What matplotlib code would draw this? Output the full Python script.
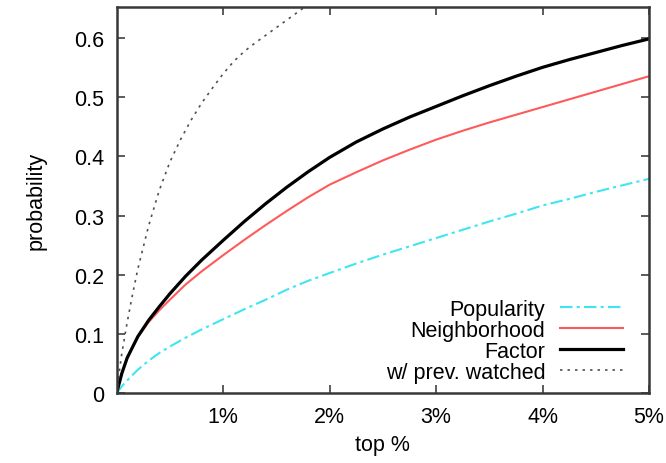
import matplotlib
matplotlib.use("Agg")
import matplotlib.pyplot as plt

plt.rcParams['font.family'] = ['Liberation Sans', 'DejaVu Sans']

# top % values and probabilities
x_main = [0, 0.05, 0.1, 0.2, 0.3, 0.4, 0.5, 0.65, 0.8, 1.0, 1.2, 1.4, 1.6, 1.8, 2.0,
          2.25, 2.5, 2.75, 3.0, 3.25, 3.5, 3.75, 4.0, 4.25, 4.5, 4.75, 5.0]
popularity = [0, 0.012, 0.022, 0.04, 0.055, 0.068, 0.079, 0.094, 0.108, 0.125, 0.142, 0.158,
              0.175, 0.19, 0.203, 0.219, 0.234, 0.248, 0.262, 0.276, 0.29, 0.303, 0.317,
              0.328, 0.34, 0.351, 0.362]
neighborhood = [0, 0.034, 0.06, 0.095, 0.12, 0.14, 0.158, 0.184, 0.206, 0.233, 0.259, 0.284,
                0.308, 0.331, 0.352, 0.373, 0.393, 0.411, 0.428, 0.443, 0.457, 0.47, 0.483,
                0.496, 0.509, 0.522, 0.535]
factor = [0, 0.034, 0.06, 0.096, 0.123, 0.146, 0.168, 0.198, 0.225, 0.258, 0.29, 0.32,
          0.348, 0.374, 0.398, 0.424, 0.446, 0.466, 0.484, 0.502, 0.519, 0.535, 0.55,
          0.563, 0.575, 0.587, 0.598]

x_prev = [0, 0.025, 0.05, 0.1, 0.15, 0.2, 0.3, 0.4, 0.5, 0.6, 0.7, 0.8, 0.9, 1.0,
          1.1, 1.2, 1.3, 1.4, 1.5, 1.6, 1.7, 1.8, 1.9]
prev_watched = [0, 0.036, 0.068, 0.12, 0.167, 0.21, 0.282, 0.342, 0.39, 0.428, 0.461, 0.49,
                0.515, 0.539, 0.56, 0.577, 0.591, 0.604, 0.617, 0.63, 0.643, 0.656, 0.667]

xticks = [1, 2, 3, 4, 5]
xtick_labels = ['1%', '2%', '3%', '4%', '5%']
yticks = [0, 0.1, 0.2, 0.3, 0.4, 0.5, 0.6]
ytick_labels = ['0', '0.1', '0.2', '0.3', '0.4', '0.5', '0.6']

fs = 15.5

fig = plt.figure(figsize=(6.66, 4.64), dpi=100)
ax = fig.add_axes([0.175, 0.150, 0.7995, 0.833])

ax.plot(x_main, popularity, color='#3ee6f0', lw=1.5, ls=(0, (6, 2, 1.5, 2)), label='Popularity')
ax.plot(x_main, neighborhood, color='#ff5a5a', lw=1.5, label='Neighborhood')
ax.plot(x_main, factor, color='black', lw=2.3, label='Factor')
ax.plot(x_prev, prev_watched, color='#505050', lw=1.2, ls=(0, (1.5, 3)), label='w/ prev. watched')

ax.set_xlim(0, 5)
ax.set_ylim(0, 0.652)
ax.set_xticks(xticks)
ax.set_xticklabels(xtick_labels)
ax.set_yticks(yticks)
ax.set_yticklabels(ytick_labels)
ax.tick_params(direction='in', length=6, width=1.2, color='#404040',
               top=True, right=True, labelsize=fs, pad=9)
for s in ax.spines.values():
    s.set_linewidth(1.8)
    s.set_color('#383838')

ax.set_xlabel('top %', fontsize=fs, labelpad=5)
ax.set_ylabel('probability', fontsize=fs, labelpad=20)

ax.legend(loc='lower right', frameon=False, markerfirst=False, fontsize=fs,
          handlelength=2.9, handletextpad=0.7, labelspacing=0.0,
          borderaxespad=0.0, bbox_to_anchor=(0.967, 0.005))

fig.savefig('out.png', dpi=100)
